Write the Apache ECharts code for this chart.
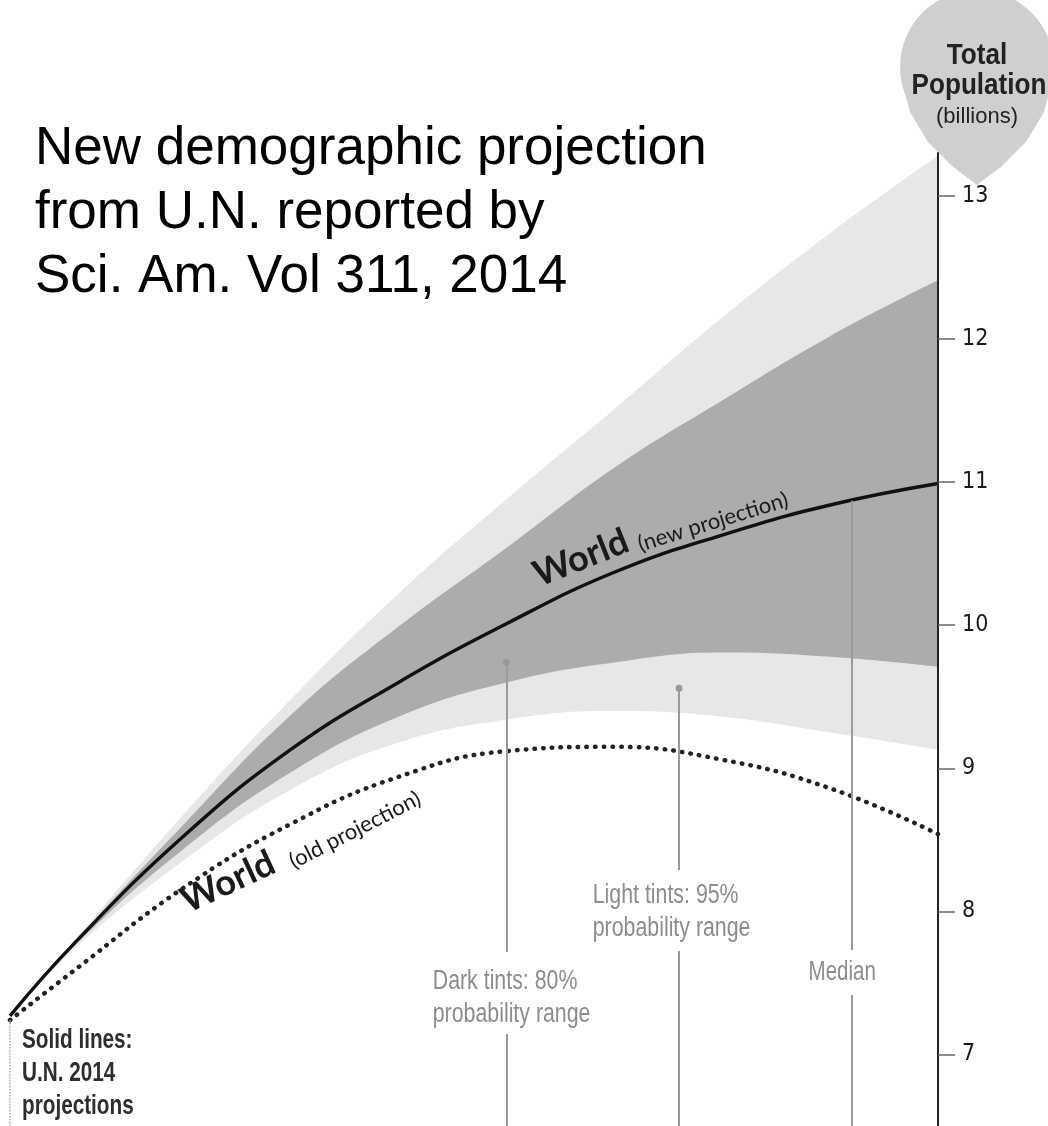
<!DOCTYPE html>
<html>
<head>
<meta charset="utf-8">
<title>World population projection</title>
<script src="https://cdn.jsdelivr.net/npm/echarts@6.0.0/dist/echarts.min.js"></script>
<style>
  html, body { margin: 0; padding: 0; background: #fff; }
  #chart { width: 1048px; height: 1126px; }
</style>
</head>
<body>
<div id="chart"></div>
<script>
// years on the (hidden) horizontal axis
const years = [2014, 2020, 2030, 2040, 2050, 2060, 2070, 2080, 2090, 2100];
// total population, billions
const median = [7.27, 7.78, 8.52, 9.13, 9.60, 10.01, 10.37, 10.63, 10.84, 10.99];
const oldProjection = [7.24, 7.59, 8.16, 8.61, 8.94, 9.12, 9.15, 9.06, 8.86, 8.54];
const upper95 = [7.27, 7.80, 8.67, 9.48, 10.22, 10.88, 11.51, 12.15, 12.74, 13.28];
const upper80 = [7.27, 7.79, 8.60, 9.37, 9.99, 10.54, 11.10, 11.57, 12.02, 12.41];
const lower80 = [7.27, 7.76, 8.43, 8.97, 9.36, 9.60, 9.74, 9.81, 9.78, 9.71];
const lower95 = [7.27, 7.74, 8.35, 8.85, 9.18, 9.34, 9.40, 9.36, 9.25, 9.13];
// y axis ticks
const tickValues = [7, 8, 9, 10, 11, 12, 13];
// pointer lines for the annotations: year, value where the line starts, dot or not
const pointerYears = [2060, 2076, 2092];
const pointerTops = [9.74, 9.56, 10.87];
const pointerDots = [true, true, false];

const LIGHT = "#e7e7e7";
const DARK = "#acacac";
const SANS = "'Liberation Sans', Arial, sans-serif";
const COND = "'DejaVu Sans Condensed', sans-serif";
const SMOOTH = 0.45;

const pairs = (vals) => years.map((y, i) => [y, vals[i]]);

const chart = echarts.init(document.getElementById("chart"));

// each band edge is filled down to the axis minimum; later ones cover earlier ones
const edgeSeries = (name, vals, color) => ({
  name: name,
  type: "line",
  data: pairs(vals),
  smooth: SMOOTH,
  symbol: "none",
  silent: true,
  lineStyle: { width: 0 },
  areaStyle: { color: color, opacity: 1, origin: "start" },
});

const option = {
  animation: false,
  grid: { left: 10, right: 110, top: 153, bottom: 0 },
  xAxis: { type: "value", min: 2014, max: 2100, show: false },
  yAxis: {
    type: "value",
    position: "right",
    min: 6.5,
    max: 13.3,
    z: 5,
    splitLine: { show: false },
    axisLine: { show: true, lineStyle: { color: "#222", width: 2 } },
    axisTick: {
      show: true,
      length: 17,
      customValues: tickValues,
      lineStyle: { color: "#666", width: 1.5 },
    },
    axisLabel: {
      customValues: tickValues,
      margin: 24,
      color: "#1a1a1a",
      fontSize: 23,
      fontFamily: COND,
    },
  },
  series: [
    edgeSeries("95% high", upper95, LIGHT),
    edgeSeries("80% high", upper80, DARK),
    edgeSeries("80% low", lower80, LIGHT),
    edgeSeries("95% low", lower95, "#fff"),
    {
      name: "World (old projection)",
      type: "line",
      data: pairs(oldProjection),
      smooth: SMOOTH,
      symbol: "none",
      lineStyle: { color: "#222", width: 4.5, type: [0.5, 8.2], cap: "round" },
      markLine: {
        silent: true,
        symbol: "none",
        label: { show: false },
        lineStyle: { color: "#aaa", width: 1.5, type: "dotted" },
        data: [[{ coord: [years[0], oldProjection[0]] }, { coord: [years[0], 6.5] }]],
      },
    },
    {
      name: "World (new projection)",
      type: "line",
      data: pairs(median),
      smooth: SMOOTH,
      symbol: "none",
      lineStyle: { color: "#111", width: 3.4 },
      markLine: {
        silent: true,
        label: { show: false },
        lineStyle: { color: "#9a9a9a", width: 2, type: "solid" },
        data: pointerYears.map((yr, i) => [
          { coord: [yr, pointerTops[i]], symbol: pointerDots[i] ? "circle" : "none", symbolSize: 7 },
          { coord: [yr, 6.5], symbol: "none" },
        ]),
      },
    },
  ],
  graphic: [
    // pin holding the axis title
    {
      type: "circle", z: 0, silent: true,
      shape: { cx: 977, cy: 67, r: 77 },
      style: { fill: "#cfcfcf" },
    },
    {
      type: "polygon", z: 0, silent: true,
      shape: {
        points: [[901, 78], [910, 112], [928, 142], [952, 166], [977, 185], [1002, 166], [1026, 142], [1044, 112], [1053, 78]],
      },
      style: { fill: "#cfcfcf" },
    },
    {
      type: "text", z: 10, x: 977, y: 56, scaleX: 0.87,
      style: { text: "Total", font: "bold 30px " + SANS, fill: "#222", align: "center", verticalAlign: "middle" },
    },
    {
      type: "text", z: 10, x: 979, y: 86, scaleX: 0.87,
      style: { text: "Population", font: "bold 30px " + SANS, fill: "#222", align: "center", verticalAlign: "middle" },
    },
    {
      type: "text", z: 10, x: 977, y: 117,
      style: { text: "(billions)", font: "22px " + SANS, fill: "#222", align: "center", verticalAlign: "middle" },
    },
    // heading
    {
      type: "text", z: 10, x: 35, y: 117,
      style: {
        text: "New demographic projection\nfrom U.N. reported by\nSci. Am. Vol 311, 2014",
        font: "53px " + SANS,
        lineHeight: 64,
        fill: "#000",
        align: "left",
        verticalAlign: "top",
      },
    },
    // curve labels
    {
      type: "text", z: 10, x: 581, y: 558, rotation: (21.5 * Math.PI) / 180,
      style: { text: "World", font: "bold 36px Lato, sans-serif", fill: "#1a1a1a", align: "center", verticalAlign: "middle" },
    },
    {
      type: "text", z: 10, x: 713, y: 522, rotation: (17 * Math.PI) / 180,
      style: { text: "(new projection)", font: "22px Lato, sans-serif", fill: "#1a1a1a", align: "center", verticalAlign: "middle" },
    },
    {
      type: "text", z: 10, x: 228, y: 882, rotation: (25 * Math.PI) / 180,
      style: { text: "World", font: "bold 36px Lato, sans-serif", fill: "#1a1a1a", align: "center", verticalAlign: "middle" },
    },
    {
      type: "text", z: 10, x: 355, y: 830, rotation: (27 * Math.PI) / 180,
      style: { text: "(old projection)", font: "22px Lato, sans-serif", fill: "#1a1a1a", align: "center", verticalAlign: "middle" },
    },
    // annotations
    {
      type: "text", z: 100, x: 428, y: 952, scaleX: 0.79,
      style: {
        text: "Dark tints: 80%\nprobability range",
        font: "27px " + SANS, lineHeight: 33, fill: "#8c8c8c",
        backgroundColor: "#fff", padding: [13, 6, 3, 6],
        align: "left", verticalAlign: "top",
      },
    },
    {
      type: "text", z: 100, x: 588, y: 870, scaleX: 0.79,
      style: {
        text: "Light tints: 95%\nprobability range",
        font: "27px " + SANS, lineHeight: 33, fill: "#8c8c8c",
        backgroundColor: "#fff", padding: [9, 6, 6, 6],
        align: "left", verticalAlign: "top",
      },
    },
    {
      type: "text", z: 100, x: 804, y: 950, scaleX: 0.76,
      style: {
        text: "Median",
        font: "27px " + SANS, lineHeight: 33, fill: "#8c8c8c",
        backgroundColor: "#fff", padding: [6, 6, 6, 6],
        align: "left", verticalAlign: "top",
      },
    },
    {
      type: "text", z: 100, x: 22, y: 1024, scaleX: 0.74,
      style: {
        text: "Solid lines:\nU.N. 2014\nprojections",
        font: "bold 28px " + SANS, lineHeight: 33, fill: "#2e2e2e",
        align: "left", verticalAlign: "top",
      },
    },
  ],
};

chart.setOption(option);
</script>
</body>
</html>
